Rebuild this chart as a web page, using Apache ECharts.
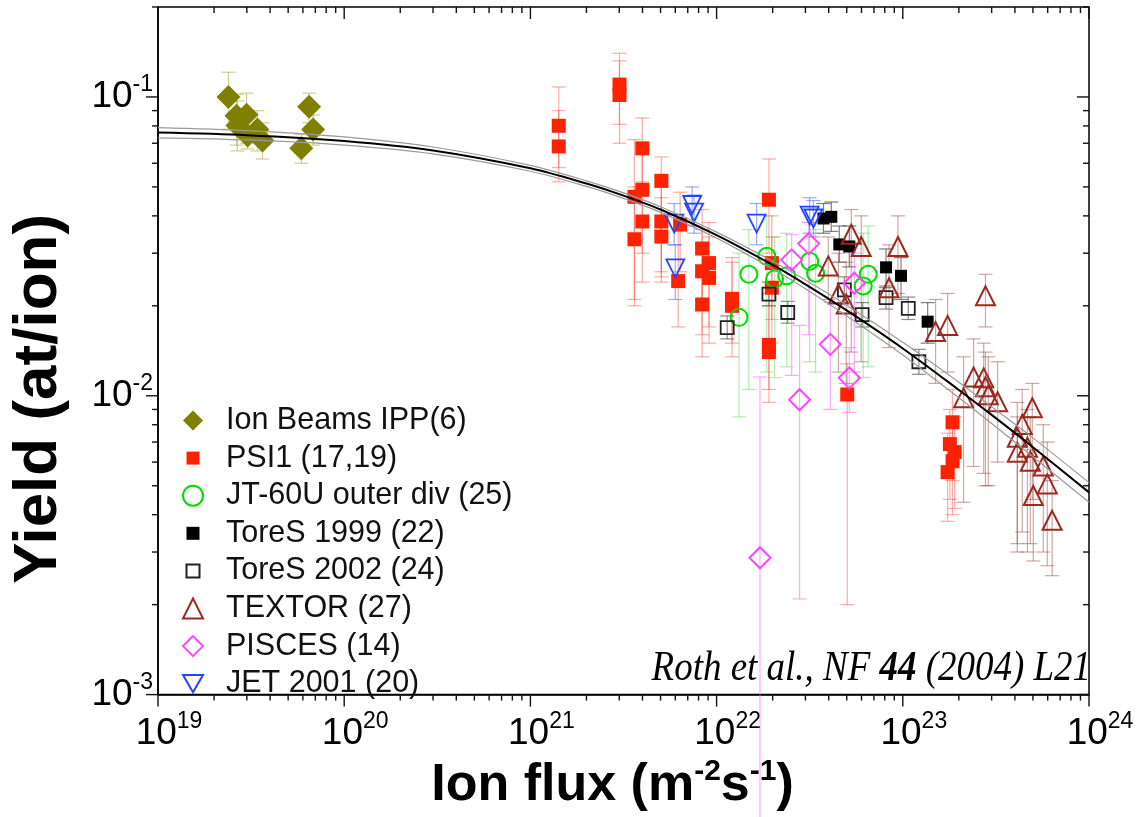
<!DOCTYPE html>
<html><head><meta charset="utf-8">
<script src="https://cdn.jsdelivr.net/npm/echarts@6/dist/echarts.min.js"></script>
<style>html,body{margin:0;padding:0;background:#fff}#c{width:1137px;height:817px}</style>
</head><body><div id="c"></div>
<script>
const SANS = "'Liberation Sans',Arial,sans-serif";
const SERIF = "'Liberation Serif','Times New Roman',serif";

// ---- data: [ion flux (m^-2 s^-1), yield, lower error, upper error] ----
const ionBeams = [
  [2.39e19, 0.100, 0.078, 0.121],
  [2.64e19, 0.0865, 0.069, 0.102],
  [2.99e19, 0.0872, 0.070, 0.103],
  [2.67e19, 0.0802, 0.066, 0.097],
  [3.03e19, 0.0743, 0.067, 0.090],
  [3.42e19, 0.0778, 0.066, 0.090],
  [3.64e19, 0.0715, 0.062, 0.082],
  [5.88e19, 0.0673, 0.060, 0.075],
  [6.48e19, 0.0927, 0.082, 0.103],
  [6.81e19, 0.0778, 0.069, 0.087]
];
const psi1 = [
  [1.42e21, 0.0801, 0.058, 0.108],
  [1.42e21, 0.0683, 0.052, 0.090],
  [3.01e21, 0.110, 0.081, 0.140],
  [3.01e21, 0.1015, 0.070, 0.132],
  [3.99e21, 0.0673, 0.048, 0.085],
  [3.99e21, 0.0489, 0.030, 0.066],
  [3.62e21, 0.0463, 0.021, 0.072],
  [5.05e21, 0.0524, 0.026, 0.063],
  [3.99e21, 0.0383, 0.024, 0.052],
  [3.62e21, 0.0334, 0.020, 0.050],
  [5.05e21, 0.0383, 0.025, 0.050],
  [5.05e21, 0.0341, 0.024, 0.046],
  [6.37e21, 0.0374, 0.026, 0.048],
  [6.22e21, 0.0242, 0.017, 0.036],
  [8.36e21, 0.0311, 0.020, 0.042],
  [9.11e21, 0.0278, 0.017, 0.038],
  [8.36e21, 0.0261, 0.016, 0.036],
  [9.11e21, 0.0248, 0.015, 0.034],
  [8.36e21, 0.0202, 0.0135, 0.030],
  [1.21e22, 0.0211, 0.0150, 0.029],
  [1.21e22, 0.0200, 0.0135, 0.028],
  [1.91e22, 0.0453, 0.030, 0.062],
  [1.98e22, 0.0278, 0.018, 0.040],
  [1.98e22, 0.0230, 0.015, 0.034],
  [1.91e22, 0.0148, 0.0105, 0.022],
  [1.91e22, 0.0140, 0.0095, 0.020],
  [5.03e22, 0.0101, 0.0020, 0.0128],
  [1.85e23, 0.00815, 0.0052, 0.0105],
  [1.79e23, 0.00689, 0.0045, 0.0090],
  [1.90e23, 0.00648, 0.0042, 0.0085],
  [1.85e23, 0.00604, 0.0040, 0.0080],
  [1.74e23, 0.00555, 0.0038, 0.0075]
];
const jt60u = [
  [1.32e22, 0.0183, 0.0085, 0.030],
  [1.49e22, 0.0255, 0.0105, 0.036],
  [1.86e22, 0.0293, 0.012, 0.040],
  [2.05e22, 0.0246, 0.0115, 0.034],
  [2.38e22, 0.0252, 0.0125, 0.035],
  [3.16e22, 0.0282, 0.0130, 0.038],
  [3.40e22, 0.0257, 0.0120, 0.036],
  [6.13e22, 0.0233, 0.0115, 0.035],
  [6.52e22, 0.0255, 0.0125, 0.037]
];
const tores1999 = [
  [3.75e22, 0.0392, 0.035, 0.044],
  [4.13e22, 0.0397, 0.0355, 0.0445],
  [4.56e22, 0.0321, 0.028, 0.037],
  [5.16e22, 0.0316, 0.027, 0.037],
  [8.13e22, 0.0269, 0.023, 0.031],
  [9.78e22, 0.0252, 0.021, 0.029],
  [1.36e23, 0.0177, 0.015, 0.0205]
];
const tores2002 = [
  [1.14e22, 0.0169, 0.0155, 0.0185],
  [1.91e22, 0.0219, 0.020, 0.024],
  [2.41e22, 0.0190, 0.0175, 0.0207],
  [4.85e22, 0.0226, 0.0205, 0.025],
  [6.05e22, 0.0187, 0.017, 0.0205],
  [8.13e22, 0.0213, 0.0195, 0.0233],
  [1.07e23, 0.0196, 0.018, 0.0214],
  [1.22e23, 0.0130, 0.0118, 0.0143]
];
const textor = [
  [3.98e22, 0.0272, 0.021, 0.034],
  [5.29e22, 0.0347, 0.014, 0.042],
  [5.98e22, 0.0316, 0.013, 0.040],
  [4.51e22, 0.0219, 0.012, 0.030],
  [4.97e22, 0.0203, 0.011, 0.028],
  [8.44e22, 0.0230, 0.0145, 0.032],
  [9.42e22, 0.0316, 0.022, 0.040],
  [1.50e23, 0.0164, 0.011, 0.021],
  [1.74e23, 0.0172, 0.012, 0.022],
  [2.78e23, 0.0216, 0.017, 0.0255],
  [2.12e23, 0.00984, 0.0044, 0.0135],
  [2.40e23, 0.01156, 0.0058, 0.0155],
  [2.72e23, 0.01148, 0.0055, 0.0150],
  [2.78e23, 0.01072, 0.0050, 0.0140],
  [2.88e23, 0.01008, 0.0050, 0.0135],
  [3.23e23, 0.00955, 0.0060, 0.0130],
  [4.12e23, 0.00726, 0.0032, 0.0095],
  [4.38e23, 0.00802, 0.0035, 0.0105],
  [4.96e23, 0.00912, 0.0045, 0.0110],
  [4.12e23, 0.00647, 0.0030, 0.0085],
  [4.67e23, 0.00673, 0.0030, 0.0090],
  [4.84e23, 0.00604, 0.0032, 0.0085],
  [5.68e23, 0.00582, 0.0030, 0.0080],
  [5.97e23, 0.00507, 0.0027, 0.0070],
  [5.02e23, 0.00464, 0.0028, 0.0066],
  [6.34e23, 0.00383, 0.0025, 0.0052]
];
const pisces = [
  [2.53e22, 0.0285, 0.0117, 0.0346],
  [3.12e22, 0.0323, 0.016, 0.038],
  [5.49e22, 0.0238, 0.012, 0.030],
  [4.08e22, 0.01486, 0.0090, 0.0205],
  [5.16e22, 0.01148, 0.0088, 0.0145],
  [2.79e22, 0.00970, 0.00209, 0.0172],
  [1.71e22, 0.00287, 0.0003, 0.01156]
];
const jet2001 = [
  [5.92e21, 0.0377, 0.032, 0.044],
  [7.39e21, 0.0435, 0.037, 0.050],
  [7.57e21, 0.0410, 0.035, 0.047],
  [6.00e21, 0.0267, 0.021, 0.032],
  [1.64e22, 0.0377, 0.032, 0.044],
  [3.16e22, 0.0401, 0.035, 0.046],
  [3.31e22, 0.0392, 0.034, 0.045]
];

// fit curve and its confidence band
const fluxFit    = [1e19, 3e19, 1e20, 3e20, 1e21, 2e21, 3e21, 5e21, 1e22, 2e22, 3e22, 5e22, 1e23, 2e23, 3e23, 5e23, 1e24];
const yieldFit   = [0.0760, 0.0745, 0.0712, 0.0662, 0.0577, 0.0513, 0.0473, 0.0420, 0.0345, 0.0274, 0.0236, 0.0193, 0.0144, 0.01046, 0.00863, 0.00673, 0.00475];
const yieldUpper = [0.0790, 0.0772, 0.0735, 0.0680, 0.0590, 0.0524, 0.0483, 0.0429, 0.0353, 0.0282, 0.0244, 0.0201, 0.0151, 0.0111, 0.00919, 0.00723, 0.00512];
const yieldLower = [0.0730, 0.0718, 0.0690, 0.0645, 0.0564, 0.0502, 0.0463, 0.0411, 0.0337, 0.0266, 0.0228, 0.0185, 0.0137, 0.00985, 0.00808, 0.00625, 0.00440];

// axis tick labels (powers of ten)
const xTickExp = [19, 20, 21, 22, 23, 24];
const yTickExp = [-3, -2, -1];
const xMin = 1e19, xMax = 1e24, yMin = 0.001, yMax = 0.2;

const DOWN_TRI = 'path://M0,0L20,0L10,17.3Z';
const SMALL_SQ = 'path://M0,0M20,20M3.5,3.5L16.5,3.5L16.5,16.5L3.5,16.5Z';
const groups = [
  {name: 'Ion Beams IPP(6)',      data: ionBeams,  symbol: 'diamond', size: 24, fill: '#7f7f00', stroke: '#7f7f00', bw: 0,   err: 'rgba(170,170,60,0.55)', icon: null},
  {name: 'PSI1 (17,19)',          data: psi1,      symbol: 'rect',    size: 14, fill: '#ff2200', stroke: '#ff2200', bw: 0,   err: 'rgba(255,70,60,0.45)', icon: SMALL_SQ},
  {name: 'JT-60U outer div (25)', data: jt60u,     symbol: 'circle',  size: 17, fill: 'rgba(255,255,255,0)', stroke: '#00dd00', bw: 2, err: 'rgba(60,210,60,0.4)', icon: null},
  {name: 'ToreS 1999 (22)',       data: tores1999, symbol: 'rect',    size: 12, fill: '#000000', stroke: '#000000', bw: 0,   err: 'rgba(60,60,60,0.65)', icon: SMALL_SQ},
  {name: 'ToreS 2002 (24)',       data: tores2002, symbol: 'rect',    size: 13, fill: 'rgba(255,255,255,0)', stroke: '#222222', bw: 1.8, err: 'rgba(80,80,80,0.65)', icon: SMALL_SQ},
  {name: 'TEXTOR (27)',           data: textor,    symbol: 'triangle',size: 19, fill: 'rgba(255,255,255,0)', stroke: '#9a2a20', bw: 2, err: 'rgba(150,60,50,0.45)', icon: null},
  {name: 'PISCES (14)',           data: pisces,    symbol: 'diamond', size: 21, fill: 'rgba(255,255,255,0)', stroke: '#ff44ff', bw: 2, err: 'rgba(255,100,255,0.55)', icon: null},
  {name: 'JET 2001 (20)',         data: jet2001,   symbol: DOWN_TRI,  size: 18, fill: 'rgba(255,255,255,0)', stroke: '#2244ff', bw: 1.8, err: 'rgba(60,90,255,0.5)', icon: null}
];

function powLabel(exps) {
  return function (v) {
    const l = Math.log10(v), e = Math.round(l);
    if (Math.abs(l - e) > 1e-6 || exps.indexOf(e) < 0) return '';
    return '{b|10}{s|' + e + '}';
  };
}
const labelRich = {
  b: {fontFamily: SANS, fontSize: 37, lineHeight: 48, color: '#000'},
  s: {fontFamily: SANS, fontSize: 23, color: '#000', padding: [0, 0, 24, 0]}
};

function makeErr(color) {
  return function (params, api) {
    const x = api.value(0), lo = api.value(2), hi = api.value(3);
    const a = api.coord([x, hi]), b = api.coord([x, lo]);
    const w = 7, st = {stroke: color, lineWidth: 1.2};
    return {type: 'group', children: [
      {type: 'line', shape: {x1: a[0], y1: a[1], x2: b[0], y2: b[1]}, style: st},
      {type: 'line', shape: {x1: a[0] - w, y1: a[1], x2: a[0] + w, y2: a[1]}, style: st},
      {type: 'line', shape: {x1: b[0] - w, y1: b[1], x2: b[0] + w, y2: b[1]}, style: st}
    ]};
  };
}

function renderTicks(params, api) {
  const bl = api.coord([xMin, yMin]), tr = api.coord([xMax, yMax]);
  const L = bl[0], B = bl[1], R = tr[0], T = tr[1];
  const st = {stroke: '#111', lineWidth: 1.4};
  const ch = [];
  const line = (x1, y1, x2, y2) => ch.push({type: 'line', shape: {x1, y1, x2, y2}, style: st});
  for (let d = 19; d <= 24; d++) {
    for (let m = 1; m <= 9; m++) {
      const v = m * Math.pow(10, d);
      if (v > xMax * 1.0001) break;
      const len = m === 1 ? 12 : 6;
      const px = api.coord([v, 0.01])[0];
      line(px, B, px, B + len);
      line(px, T, px, T + len);
    }
  }
  for (let d = -3; d <= -1; d++) {
    for (let m = 1; m <= 9; m++) {
      const v = m * Math.pow(10, d);
      if (v > yMax * 1.0001) break;
      const len = m === 1 ? 12 : 6;
      const py = api.coord([1e20, v])[1];
      line(L - len, py, L, py);
      line(R - len, py, R, py);
    }
  }
  return {type: 'group', children: ch};
}

const series = [];
groups.forEach(g => {
  series.push({
    type: 'custom', name: g.name + ' err', data: g.data, renderItem: makeErr(g.err),
    encode: {x: 0, y: 1}, silent: true, z: 1, clip: false
  });
});
groups.forEach((g, i) => {
  series.push({
    type: 'scatter', name: g.name, data: g.data.map(d => [d[0], d[1]]),
    symbol: g.symbol, symbolSize: g.size,
    itemStyle: {color: g.fill, borderColor: g.stroke, borderWidth: g.bw, opacity: 1},
    z: 3 + i
  });
});
series.push({type: 'line', name: 'upper', data: fluxFit.map((x, i) => [x, yieldUpper[i]]), smooth: 0.3,
  showSymbol: false, symbol: 'none', lineStyle: {color: '#9a9a9a', width: 1.2}, silent: true, z: 20});
series.push({type: 'line', name: 'lower', data: fluxFit.map((x, i) => [x, yieldLower[i]]), smooth: 0.3,
  showSymbol: false, symbol: 'none', lineStyle: {color: '#9a9a9a', width: 1.2}, silent: true, z: 20});
series.push({type: 'line', name: 'fit', data: fluxFit.map((x, i) => [x, yieldFit[i]]), smooth: 0.3,
  showSymbol: false, symbol: 'none', lineStyle: {color: '#000', width: 2}, silent: true, z: 21});
series.push({type: 'custom', name: 'ticks', data: [[1e21, 0.01]], renderItem: renderTicks, silent: true, z: 30, clip: false});

const chart = echarts.init(document.getElementById('c'), null, {renderer: 'canvas'});
chart.setOption({
  animation: false,
  backgroundColor: '#fff',
  grid: {left: 153, right: 48, top: 7, bottom: 114, show: true, borderColor: '#000', borderWidth: 1.5, backgroundColor: 'rgba(0,0,0,0)'},
  xAxis: {
    type: 'log', logBase: 10, min: xMin, max: xMax,
    axisLine: {show: true, lineStyle: {color: '#000', width: 1.5}},
    axisTick: {show: false}, splitLine: {show: false}, minorTick: {show: false},
    axisLabel: {formatter: powLabel(xTickExp), rich: labelRich, margin: 15, padding: [0, 0, 0, 22], showMinLabel: true, showMaxLabel: true, hideOverlap: false},
    name: '{t|Ion flux (m}{s|-2}{t|s}{s|-1}{t|)}', nameLocation: 'middle', nameGap: 52,
    nameTextStyle: {padding: [0, 22, 0, 0], rich: {
      t: {fontFamily: SANS, fontWeight: 'bold', fontSize: 52, lineHeight: 60, color: '#000'},
      s: {fontFamily: SANS, fontWeight: 'bold', fontSize: 30, color: '#000', padding: [0, 0, 28, 0]}
    }}
  },
  yAxis: {
    type: 'log', logBase: 10, min: yMin, max: yMax,
    axisLine: {show: true, lineStyle: {color: '#000', width: 1.5}},
    axisTick: {show: false}, splitLine: {show: false}, minorTick: {show: false},
    axisLabel: {formatter: powLabel(yTickExp), rich: labelRich, margin: 5, showMaxLabel: false, hideOverlap: false},
    name: 'Yield (at/ion)', nameLocation: 'middle', nameGap: 88,
    nameTextStyle: {fontFamily: SANS, fontWeight: 'bold', fontSize: 62, color: '#000', padding: [0, 96, 0, 0]}
  },
  legend: {
    orient: 'vertical', left: 177, top: 400, itemWidth: 20, itemHeight: 20, itemGap: 6.6,
    formatter: name => '{p| }{t|' + name + '}',
    textStyle: {color: '#111', rich: {
      p: {width: 18, fontSize: 30, lineHeight: 30},
      t: {fontFamily: SANS, fontSize: 30.5, lineHeight: 30, color: '#111'}
    }},
    data: groups.map(g => g.icon ? {name: g.name, icon: g.icon} : {name: g.name}), selectedMode: false
  },
  graphic: [{
    type: 'text', x: 1091, y: 669, scaleX: 0.88, silent: true, z: 40,
    style: {
      text: '{i|Roth et al., NF }{b|44}{i| (2004) L21}', align: 'right', verticalAlign: 'middle',
      rich: {
        i: {fontFamily: SERIF, fontStyle: 'italic', fontSize: 42, fill: '#000'},
        b: {fontFamily: SERIF, fontStyle: 'italic', fontWeight: 'bold', fontSize: 42, fill: '#000'}
      }
    }
  }],
  series: series
});
</script></body></html>
